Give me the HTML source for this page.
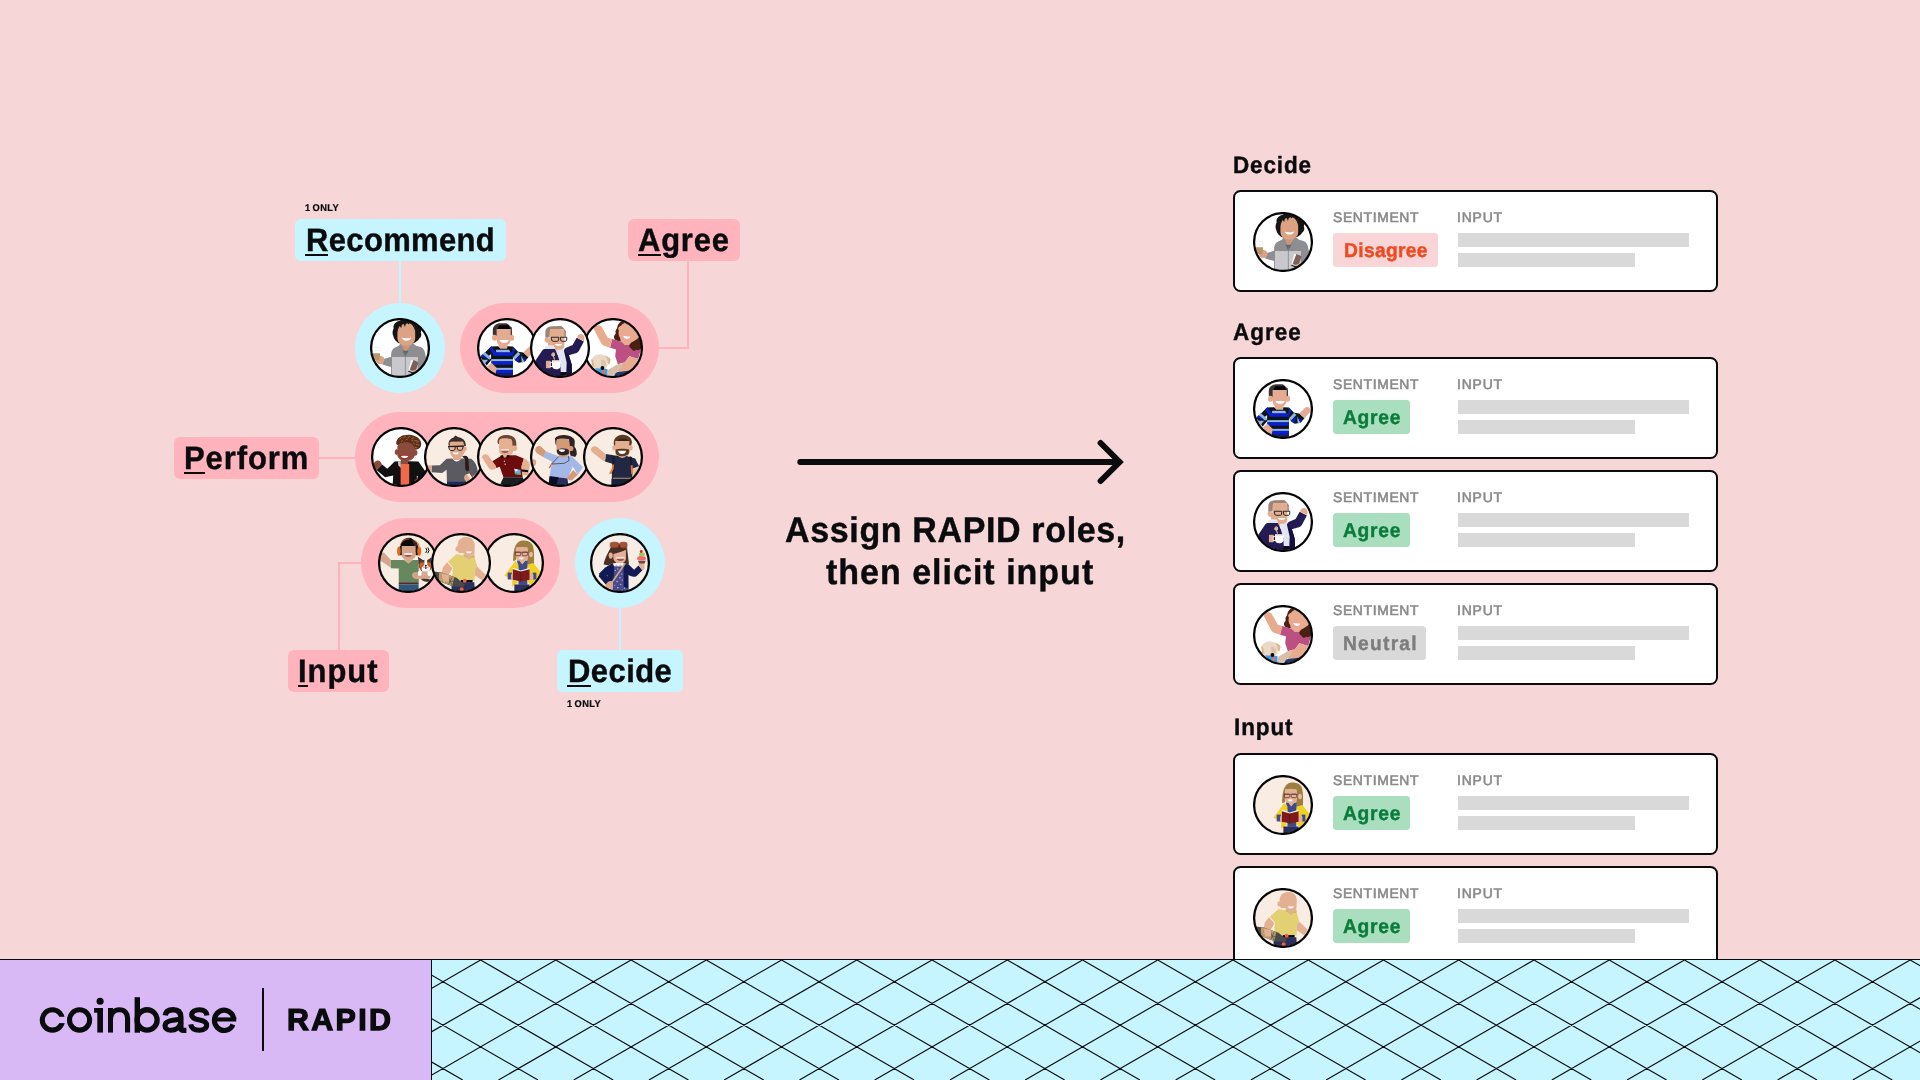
<!DOCTYPE html>
<html><head><meta charset="utf-8">
<title>RAPID</title>
<style>
html,body{margin:0;padding:0}
body{width:1920px;height:1080px;overflow:hidden;background:#f7d6d8;font-family:"Liberation Sans",sans-serif;position:relative;color:#0a0b0d}
.a{position:absolute}
.t{position:absolute;white-space:nowrap;line-height:1;font-weight:bold;will-change:transform;text-rendering:geometricPrecision;transform:scaleY(1.05);transform-origin:0 84.65%;-webkit-text-stroke-width:.4px}
.lbl{position:absolute;height:42px;border-radius:6px}
.pk{background:#ffb3bc}
.bl{background:#c6f4ff}
.ul{position:absolute;height:2px;background:#0a0b0d}
.pill{position:absolute;height:90px;border-radius:45px}
.av{position:absolute;width:60px;height:60px}
.card{position:absolute;left:1233px;width:481px;height:98px;border:2px solid #0a0b0d;border-radius:7.5px;background:#fff}
.gl{transform:none;color:#8a8a8a;font-size:13.9px;letter-spacing:.65px;font-weight:normal;-webkit-text-stroke:.6px #8a8a8a}
.bar{position:absolute;height:14px;background:#d9d9d9}
.bdg{position:absolute;height:34px;border-radius:3.5px}
.h{font-size:22.5px}
</style></head>
<body>
<svg width="0" height="0" style="position:absolute"><defs><clipPath id="cc"><circle cx="30" cy="30" r="28.4"/></clipPath><symbol id="av1" viewBox="0 0 60 60"><circle cx="30" cy="30" r="29" fill="#fff"/><g clip-path="url(#cc)"><g transform="scale(.074074) translate(-135,-133)"><path d="M452,385 C430,340 440,300 455,270 C440,230 480,180 530,172 C560,150 620,150 650,160 C700,150 760,180 790,225 C830,250 835,300 820,330 C840,360 820,400 795,415 C790,440 750,455 720,475 L525,475 C500,450 470,440 452,385Z" fill="#151515"/><rect x="560" y="440" width="135" height="160" fill="#cf9676"/><path d="M505,300 C505,225 560,197 625,197 C700,197 745,232 745,300 L745,400 C745,470 690,505 625,505 C560,505 505,470 505,400Z" fill="#dba283"/><path d="M498,335 L503,260 C520,200 580,183 640,183 C705,183 748,215 752,335 L738,290 C728,255 705,228 692,218 L672,200 L658,222 L640,203 L618,215 L607,255 L590,215 L566,225 L556,268 L536,240 C516,270 510,300 498,335Z" fill="#151515"/><path d="M565,395 Q627,418 690,395 Q682,437 627,437 Q573,437 565,395Z" fill="#fff"/><path d="M420,640 C420,565 450,535 520,512 L552,475 L612,610 L705,470 L765,512 C850,522 872,565 882,625 L905,730 L905,960 L420,960Z" fill="#8d8d92"/><path d="M575,575 L655,575 L612,655Z" fill="#5d6b62"/><rect x="432" y="660" width="350" height="300" fill="#c9c9cd"/><rect x="606" y="600" width="10" height="360" fill="#7e7e82"/><path d="M432,652 L312,690 L300,762 L432,797Z" fill="#8d8d92"/><ellipse cx="272" cy="700" rx="58" ry="55" fill="#dba283"/><path d="M160,610 L272,610 L262,702 L172,702Z" fill="#b8966a"/><path d="M170,530 h80 q18,0 18,18 v10 q0,18 -18,18 h-50 l-30,25" fill="none" stroke="#dbe6ea" stroke-width="8"/><path d="M690,700 L722,700 L672,832 L650,852Z" fill="#f4f4f4"/><path d="M722,700 L792,732 L745,862 L672,832Z" fill="#7a6056"/><path d="M655,845 L730,872 L724,886 L650,860Z" fill="#1a1a1a"/><ellipse cx="748" cy="850" rx="30" ry="17" fill="#dba283"/></g></g><circle cx="30" cy="30" r="28.9" fill="none" stroke="#050506" stroke-width="2.25"/></symbol><symbol id="av2" viewBox="0 0 60 60"><circle cx="30" cy="30" r="29" fill="#fff"/><g clip-path="url(#cc)"><g transform="scale(.074074) translate(-135,-135)"><path d="M348,362 L348,300 C348,235 400,205 450,205 L520,205 C560,205 570,240 605,262 L610,390 L580,392 L580,285 L405,285 L405,380Z" fill="#3e3331"/><path d="M405,285 L440,232 L560,232 L585,285Z" fill="#000"/><rect x="428" y="470" width="118" height="85" fill="#e5ab92"/><path d="M400,285 L590,285 L590,420 C590,470 560,500 540,502 L440,502 C410,495 400,460 400,420Z" fill="#e5ab92"/><ellipse cx="372" cy="402" rx="34" ry="40" fill="#e5ab92"/><ellipse cx="606" cy="402" rx="30" ry="40" fill="#e5ab92"/><path d="M440,432 L562,432 Q555,470 500,470 Q447,470 440,432Z" fill="#fff"/><path d="M325,520 L420,515 L450,550 L540,550 L545,515 L620,520 L620,915 L395,915 L325,690Z" fill="#0d1614"/><path d="M390,565 L570,565 L585,600 L395,600Z" fill="#8fb4e8"/><rect x="355" y="600" width="265" height="46" fill="#0a1fd0"/><rect x="325" y="690" width="295" height="30" fill="#8fb4e8"/><rect x="325" y="720" width="295" height="46" fill="#0a1fd0"/><rect x="395" y="808" width="225" height="28" fill="#8fb4e8"/><rect x="395" y="836" width="225" height="46" fill="#0a1fd0"/><rect x="395" y="882" width="225" height="35" fill="#1a2070"/><path d="M325,520 L180,660 L265,775 L330,700 L290,650 L400,560Z" fill="#0d1614"/><path d="M300,545 L330,520 L395,600 L360,640Z" fill="#0a1fd0"/><path d="M240,595 L210,625 L300,700 L325,670Z" fill="#8fb4e8"/><path d="M210,625 L180,655 L290,690 L300,700Z" fill="#0a1fd0"/><path d="M200,700 L285,700 L240,755Z" fill="#8fb4e8"/><path d="M270,790 L330,740 L405,815 L385,885 L300,840Z" fill="#e5ab92"/><path d="M620,520 L690,590 L760,600 L830,665 L775,725 L700,740 L650,705 L620,660Z" fill="#0d1614"/><path d="M620,530 L655,560 L620,640Z" fill="#0a1fd0"/><path d="M690,590 L720,620 L650,695 L620,665Z" fill="#8fb4e8"/><path d="M728,635 L650,705 L690,735Z" fill="#0a1fd0"/><path d="M730,640 L740,738 L775,722Z" fill="#8fb4e8"/><path d="M735,640 L780,722 L800,700Z" fill="#0a1fd0"/><path d="M760,600 L830,530 C860,500 900,510 910,545 C915,575 900,590 830,665Z" fill="#e5ab92"/></g></g><circle cx="30" cy="30" r="28.9" fill="none" stroke="#050506" stroke-width="2.25"/></symbol><symbol id="av3" viewBox="0 0 60 60"><circle cx="30" cy="30" r="29" fill="#fff"/><g clip-path="url(#cc)"><g transform="scale(.074074) translate(-135,-135)"><path d="M342,400 L342,320 C345,270 380,250 430,245 L555,243 C585,255 600,290 620,315 L618,395 L590,380 L590,290 L410,290 L400,400Z" fill="#9c8479"/><rect x="465" y="500" width="125" height="100" fill="#e2ad8f"/><path d="M400,330 C400,290 430,285 500,285 C570,285 600,295 600,340 L600,500 C600,545 570,560 520,560 C480,560 465,540 460,510 L380,505 L375,470 C340,470 325,440 335,415 C345,395 380,400 400,400Z" fill="#e2ad8f"/><path d="M380,405 L425,400" stroke="#f0f0f0" stroke-width="10"/><path d="M420,395 L525,395 L520,440 C515,455 440,455 430,440Z M545,395 L632,395 L630,440 C620,455 560,455 550,440Z" fill="none" stroke="#222" stroke-width="13"/><path d="M470,487 L572,487 Q565,512 520,512 Q477,512 470,487Z" fill="#fff"/><path d="M340,515 L455,515 L470,555 L340,550Z M560,555 L600,535 L612,565 L570,575Z" fill="#dfe3f0"/><path d="M300,575 C310,560 330,555 350,555 L470,555 L540,700 L600,560 L615,540 L710,500 L765,400 L862,452 L795,580 C780,600 760,610 740,615 L660,638 L700,770 L700,960 L200,960 L205,715Z" fill="#231b52"/><path d="M600,560 L660,638 L700,770 L700,960 L630,960 L635,740Z" fill="#15103d"/><path d="M490,565 L590,565 L630,740 L625,865 L550,865 L545,760Z" fill="#e1e4f2"/><rect x="545" y="868" width="82" height="35" fill="#0a0a0a"/><path d="M770,395 C780,360 810,345 840,355 C870,370 880,400 862,450Z" fill="#e2ad8f"/><path d="M445,605 C470,600 475,640 450,650 L465,690" fill="none" stroke="#d9b8a0" stroke-width="16" stroke-linecap="round"/><circle cx="445" cy="630" r="24" fill="#d9b8a0"/><rect x="350" y="712" width="65" height="102" rx="10" fill="#e2ad8f"/><path d="M410,740 h40 v50 h-40z" fill="none" stroke="#fff" stroke-width="14"/><rect x="415" y="745" width="18" height="38" fill="#231b52"/><path d="M432,705 L548,705 L548,790 C540,820 510,828 490,828 C455,828 440,810 432,790Z" fill="#fff"/><rect x="445" y="712" width="95" height="8" fill="#d9b8a0"/></g></g><circle cx="30" cy="30" r="28.9" fill="none" stroke="#050506" stroke-width="2.25"/></symbol><symbol id="av4" viewBox="0 0 60 60"><circle cx="30" cy="30" r="29" fill="#fff"/><g clip-path="url(#cc)"><g transform="scale(.074074) translate(-135,-135)"><path d="M660,178 C615,195 600,240 595,275 C570,300 572,330 578,345 C550,370 545,400 565,425 C595,450 640,450 680,440 L700,200Z" fill="#4a2014"/><path d="M620,300 C600,290 610,250 650,240 C670,200 720,195 760,215 C830,250 880,330 885,400 C870,450 800,470 770,500 L700,500 C660,480 640,440 635,400 C615,380 610,330 620,300Z" fill="#e8ab90"/><path d="M662,366 Q720,382 786,374 Q780,430 725,430 Q672,424 662,366Z" fill="#f59a9a"/><path d="M674,376 Q722,390 775,384 Q768,418 725,418 Q684,413 674,376Z" fill="#fff"/><path d="M530,420 L650,452 L700,500 L770,500 L915,565 L880,690 L760,650 L700,735 L605,760 L570,650 L580,560 L500,535Z" fill="#bd5083"/><path d="M885,395 C930,440 925,520 915,560 C890,560 880,580 850,560 C840,590 800,580 790,550 C760,540 750,500 775,480 C800,450 860,440 885,395Z" fill="#4a2014"/><path d="M275,275 C290,235 350,215 385,250 L470,400 L530,420 L500,535 L420,510 C395,500 385,480 375,465Z" fill="#e8ab90"/><path d="M760,650 L880,690 L810,820 C780,870 700,900 650,890 L600,850 L640,745 L700,735Z" fill="#e8ab90"/><path d="M560,870 L800,840 L760,960 L560,960Z" fill="#1f3a6e"/><path d="M465,840 L600,760 L680,735 L650,800 L560,900 L470,910Z" fill="#d8c0a8"/><path d="M420,640 C470,650 510,680 508,700 L490,765 L440,720Z" fill="#d9b98f"/><path d="M250,700 C260,660 300,630 370,625 C430,625 470,680 470,740 C470,800 440,830 400,840 L300,820 C260,790 245,750 250,700Z" fill="#ecd9c5"/><path d="M245,700 C250,690 270,690 275,720 L290,800 L260,780Z" fill="#d9b98f"/><path d="M380,700 C420,690 450,720 445,770 L420,800 L380,780Z" fill="#dcc3ad"/><path d="M300,815 L465,825 L465,910 L400,900 L330,860Z" fill="#3aa0e0"/><circle cx="397" cy="810" r="26" fill="#0a0a0a"/><path d="M385,840 L435,840 L430,880 Q410,895 392,880Z" fill="#d9707a"/></g></g><circle cx="30" cy="30" r="28.9" fill="none" stroke="#050506" stroke-width="2.25"/></symbol><symbol id="av5" viewBox="0 0 60 60"><circle cx="30" cy="30" r="29" fill="#fff"/><g clip-path="url(#cc)"><g transform="scale(.074074) translate(-150,-135)"><path d="M495,370 C480,330 510,290 540,270 C580,235 680,230 740,255 C810,280 840,340 825,390 C810,430 770,445 730,440 L700,380 C650,340 560,340 520,380Z" fill="#5c2f1b"/><path d="M540,300 l20,-20 M590,280 l25,-20 M650,275 l25,-15 M700,290 l30,-10 M740,320 l35,0 M760,370 l35,10 M720,350 l20,15 M620,310 l20,-12 M560,330 l15,-12 M770,340 l20,-5 M700,320 l18,-8 M745,410 l25,5" stroke="#c9823c" stroke-width="9" stroke-linecap="round"/><rect x="555" y="560" width="98" height="90" fill="#8c4a3c"/><path d="M505,400 C520,350 580,340 620,340 C680,340 730,370 742,430 L742,520 C720,570 690,590 650,592 L580,590 C540,580 515,550 505,520Z" fill="#8c4a3c"/><ellipse cx="495" cy="475" rx="24" ry="38" fill="#8c4a3c"/><ellipse cx="752" cy="485" rx="25" ry="38" fill="#8c4a3c"/><path d="M543,518 Q600,510 662,520 Q655,568 600,568 Q548,565 543,518Z" fill="#b02a2a"/><path d="M553,527 Q600,520 652,528 Q645,555 600,555 Q560,553 553,527Z" fill="#fff"/><path d="M470,600 L555,598 L555,960 L440,960 L450,790 L340,815 L225,715 L300,640 L370,700Z" fill="#111"/><path d="M650,598 L790,600 L880,730 L880,960 L650,960Z" fill="#111"/><rect x="550" y="635" width="116" height="325" fill="#f2694a"/><path d="M512,600 L552,598 L552,690 L520,650Z" fill="#c9c9c9"/><path d="M185,640 C190,590 250,575 275,600 L300,640 L225,715 C195,700 185,670 185,640Z" fill="#8c4a3c"/><path d="M735,860 L780,820 L790,835 L750,870Z" fill="#8c4a3c"/><rect x="768" y="795" width="14" height="25" fill="#ddd"/></g></g><circle cx="30" cy="30" r="28.9" fill="none" stroke="#050506" stroke-width="2.25"/></symbol><symbol id="av6" viewBox="0 0 60 60"><circle cx="30" cy="30" r="29" fill="#f8ece3"/><g clip-path="url(#cc)"><g transform="scale(.074074) translate(-135,-135)"><path d="M468,385 C455,320 500,290 530,280 L560,250 L600,275 C660,285 700,320 700,390 L665,395 L660,335 L500,335 L480,395Z" fill="#3b2d2a"/><rect x="525" y="520" width="110" height="70" fill="#dfa98c"/><path d="M480,340 L665,335 L680,400 C720,395 725,450 690,462 L670,500 C650,540 620,560 580,560 C530,560 500,530 490,490Z" fill="#dfa98c"/><path d="M460,398 L672,392" stroke="#111" stroke-width="16"/><path d="M468,400 L558,400 L552,440 C540,458 490,458 478,440Z M582,398 L665,395 L652,438 C640,455 600,455 588,438Z" fill="#e9b79c" stroke="#111" stroke-width="12" stroke-linejoin="round"/><path d="M520,480 L607,480 Q600,507 565,507 Q528,505 520,480Z" fill="#fff"/><path d="M515,560 Q575,610 640,560 L650,600 Q575,650 505,600Z" fill="#fff"/><path d="M440,565 L515,560 Q575,640 640,560 L770,565 C830,600 860,690 860,740 L800,800 L750,760 L700,880 L445,880 L440,712 L380,755 L240,745 L240,655 L350,650Z" fill="#5a5a60"/><path d="M650,530 C700,510 735,530 735,570 L745,720 L715,735 L690,700 L690,570 Z" fill="#2a1a18"/><rect x="185" y="652" width="58" height="90" rx="8" fill="#dfa98c"/><ellipse cx="735" cy="820" rx="58" ry="55" fill="#dfa98c"/><path d="M715,775 L750,760 L790,820 L760,840Z" fill="#e8e8e8"/><path d="M750,760 L765,755 L800,815 L790,820Z" fill="#8c2a2a"/><rect x="445" y="875" width="260" height="60" fill="#1f2a6b"/></g></g><circle cx="30" cy="30" r="28.9" fill="none" stroke="#050506" stroke-width="2.25"/></symbol><symbol id="av7" viewBox="0 0 60 60"><circle cx="30" cy="30" r="29" fill="#f8ece3"/><g clip-path="url(#cc)"><g transform="scale(.074074) translate(-138,-135)"><path d="M420,360 C400,290 450,245 520,242 C600,238 660,270 668,340 L670,390 L615,400 L600,300 L450,300 L435,365Z" fill="#6b4636"/><rect x="478" y="490" width="84" height="70" fill="#e4b091"/><path d="M435,330 C440,295 470,288 520,288 C580,288 612,300 615,345 L618,390 C660,370 690,400 680,435 C670,462 640,465 625,455 L620,490 C600,515 560,522 520,520 C470,520 440,500 435,460Z" fill="#e4b091"/><path d="M458,435 L572,435 L570,457 L460,457Z" fill="#f4ecec"/><path d="M462,457 L568,457 Q560,488 515,488 Q470,486 462,457Z" fill="#a85a52"/><path d="M455,530 L480,518 L515,555 L550,518 L660,518 L770,560 L740,665 L740,700 L755,815 L495,815 L445,670 L400,690 L340,600Z" fill="#6d0c0c"/><path d="M455,520 L490,515 L488,555 L460,555Z M540,515 L575,518 L570,555 L545,555Z" fill="#0a0a0a"/><circle cx="508" cy="598" r="10" fill="#d9c0c0"/><circle cx="518" cy="637" r="10" fill="#d9c0c0"/><path d="M205,545 C205,505 260,485 290,520 L390,655 L400,690 C370,715 330,720 300,695Z" fill="#e4b091"/><path d="M770,560 C820,570 850,620 850,660 L835,760 C820,800 760,800 745,760 L740,665Z" fill="#e4b091"/><path d="M735,705 L830,718 L825,745 L735,735Z" fill="#111"/><path d="M640,700 L725,715 L730,780 L650,770Z" fill="#7aa8e8"/><path d="M640,700 L700,712 L660,740Z" fill="#f0f0f0"/><path d="M650,755 L730,765 L730,782 L650,772Z" fill="#4ab04a"/><path d="M495,815 L755,815 L775,860 L700,960 L430,960Z" fill="#1a1d22"/></g></g><circle cx="30" cy="30" r="28.9" fill="none" stroke="#050506" stroke-width="2.25"/></symbol><symbol id="av8" viewBox="0 0 60 60"><circle cx="30" cy="30" r="29" fill="#f8ece3"/><g clip-path="url(#cc)"><g transform="scale(.074074) translate(-135,-135)"><path d="M470,290 C500,250 560,240 620,245 C690,250 740,290 740,330 L735,400 C760,420 770,470 765,510 L745,540 L680,520 L665,420 L660,300 L500,300 L490,390 C470,360 480,320 470,290Z" fill="#2f2326"/><rect x="525" y="500" width="110" height="70" fill="#d39a78"/><path d="M490,330 C495,295 530,290 580,290 C640,290 668,310 670,350 L672,395 C710,380 730,410 720,440 C712,462 690,462 672,458 L670,500 C650,525 610,532 575,530 C530,530 500,510 495,480Z" fill="#d39a78"/><path d="M497,450 C520,422 620,418 658,445 L662,488 C640,520 560,524 522,503 C502,490 497,472 497,450Z" fill="#2f2326"/><path d="M520,440 Q565,430 612,442 Q605,472 565,472 Q528,470 520,440Z" fill="#fff"/><path d="M350,465 L520,530 Q580,560 640,525 L700,530 L850,680 L780,778 L712,665 L700,700 L640,830 L400,800 L430,600 L310,540Z" fill="#a3b8e6"/><path d="M205,440 C205,395 265,380 290,405 L352,465 L310,540 L230,490 C210,475 205,460 205,440Z" fill="#d39a78"/><path d="M720,715 L780,778 L705,850 C680,870 640,850 635,815Z" fill="#d39a78"/><path d="M520,535 L425,635 M652,520 L662,588 L600,625 L430,635" fill="none" stroke="#2a2a30" stroke-width="9"/><path d="M425,635 L395,690" stroke="#d9604a" stroke-width="16"/><path d="M400,800 L640,830 L660,960 L380,960Z" fill="#2a2f5c"/><path d="M400,800 L520,815 L480,960 L380,960Z" fill="#0c0c2a"/><ellipse cx="190" cy="615" rx="27" ry="45" fill="#dba586"/></g></g><circle cx="30" cy="30" r="28.9" fill="none" stroke="#050506" stroke-width="2.25"/></symbol><symbol id="av9" viewBox="0 0 60 60"><circle cx="30" cy="30" r="29" fill="#f8ece3"/><g clip-path="url(#cc)"><g transform="scale(.074074) translate(-125,-135)"><path d="M545,390 C525,300 570,245 660,240 C740,240 790,290 785,350 L770,390 L745,385 L740,325 L575,325 L565,395Z" fill="#5a3a22"/><path d="M580,325 C600,280 720,275 745,325Z" fill="#3a2418"/><rect x="600" y="510" width="110" height="60" fill="#e2b091"/><path d="M560,325 L750,325 L750,470 C750,530 700,560 655,560 C600,560 560,530 560,470Z" fill="#e2b091"/><ellipse cx="545" cy="415" rx="25" ry="38" fill="#e2b091"/><ellipse cx="772" cy="415" rx="25" ry="38" fill="#e2b091"/><path d="M565,440 C600,425 710,425 750,440 L750,470 C750,510 700,530 655,530 C600,530 565,510 565,470Z" fill="#5a3a22"/><path d="M600,455 L705,455 Q700,500 652,500 Q605,498 600,455Z" fill="#fff"/><path d="M435,500 L600,525 Q655,580 710,525 L830,560 L882,665 L790,700 L790,960 L510,960 L520,630 L422,600Z" fill="#222844"/><path d="M232,440 C232,395 290,380 320,410 L435,505 L420,600 L380,580 L255,480 C238,468 232,455 232,440Z" fill="#e2b091"/><path d="M525,525 L555,525 L545,760 L518,760Z M755,530 L785,540 L790,700 L765,700Z" fill="#1a1a28"/><path d="M520,640 L545,640 L540,700 L510,770 L478,765 L512,700Z" fill="#e07a3a"/><path d="M768,650 L795,650 L800,790 L775,760Z" fill="#e07a3a"/><path d="M800,710 L880,680 L850,760 L810,800Z" fill="#e8c0a8"/><rect x="530" y="820" width="255" height="14" fill="#b89a6a"/><rect x="510" y="836" width="280" height="124" fill="#1a1f3a"/></g></g><circle cx="30" cy="30" r="28.9" fill="none" stroke="#050506" stroke-width="2.25"/></symbol><symbol id="av10" viewBox="0 0 60 60"><circle cx="30" cy="30" r="29" fill="#f8ece3"/><g clip-path="url(#cc)"><g transform="scale(.074074) translate(-150,-135)"><path d="M455,330 C450,250 500,200 570,200 C610,200 620,230 650,240 C690,270 695,330 690,390 L650,395 L640,310 L470,310Z" fill="#0a0a0a"/><path d="M610,215 C660,235 695,290 690,390 L655,395 L640,310Z" fill="#3a2a28"/><path d="M450,300 C470,240 520,215 575,215" fill="none" stroke="#e2681c" stroke-width="12"/><path d="M640,235 C690,260 705,300 705,330" fill="none" stroke="#e2681c" stroke-width="14"/><path d="M500,490 L620,490 L620,500 L560,548 L500,500Z" fill="#d4a58c"/><path d="M470,310 L660,310 L660,440 C650,480 610,495 560,495 C510,495 475,475 470,440Z" fill="#d4a58c"/><rect x="443" y="310" width="28" height="125" rx="8" fill="#1a1a1a"/><rect x="660" y="310" width="30" height="125" rx="8" fill="#1a1a1a"/><ellipse cx="432" cy="382" rx="24" ry="60" fill="#e2681c"/><ellipse cx="706" cy="382" rx="26" ry="60" fill="#e2681c"/><rect x="505" y="405" width="106" height="26" fill="#f0e4e0"/><path d="M510,431 L606,431 Q600,458 558,458 Q516,456 510,431Z" fill="#a0564c"/><path d="M325,500 L500,500 L560,548 L620,500 L700,500 L700,800 L430,800 L430,615 L325,610Z" fill="#67875f"/><path d="M180,415 L230,398 L325,500 L325,605 L185,510Z" fill="#d4a58c"/><rect x="430" y="800" width="268" height="27" fill="#4a3028"/><rect x="430" y="827" width="268" height="130" fill="#33557a"/><path d="M730,760 C760,790 800,800 840,785 L850,760 L760,740Z" fill="#4a302c"/><path d="M688,455 L770,510 L705,570Z M875,462 L860,560 L810,505Z" fill="#4a302c"/><path d="M700,530 C715,488 870,482 880,535 L876,600 L845,652 L738,652 L706,600Z" fill="#5a3a30"/><path d="M708,565 C712,530 760,518 778,540 L772,645 L728,632Z M812,540 C840,518 876,540 874,585 L852,640 L812,645Z" fill="#c8642a"/><path d="M778,488 L812,488 L816,570 L852,600 L846,652 L742,652 L742,600 L774,570Z" fill="#fff"/><circle cx="795" cy="578" r="13" fill="#0a0a0a"/><path d="M760,595 Q795,610 835,595" stroke="#2a1a18" stroke-width="6" fill="none"/><ellipse cx="795" cy="610" rx="13" ry="12" fill="#c8324a"/><path d="M610,700 C610,670 640,662 660,665 L840,668 C870,680 865,740 840,752 L660,755 C630,755 610,735 610,700Z" fill="#d4a58c"/><rect x="742" y="660" width="80" height="60" fill="#d9a98c"/><rect x="690" y="645" width="48" height="70" rx="22" fill="#fff"/><rect x="820" y="645" width="48" height="70" rx="22" fill="#fff"/><path d="M795,335 Q825,370 795,405 M822,330 Q855,370 822,408" fill="none" stroke="#0a0a0a" stroke-width="13"/></g></g><circle cx="30" cy="30" r="28.9" fill="none" stroke="#050506" stroke-width="2.25"/></symbol><symbol id="av11" viewBox="0 0 60 60"><circle cx="30" cy="30" r="29" fill="#f8ece3"/><g clip-path="url(#cc)"><g transform="scale(.074074) translate(-155,-135)"><rect x="610" y="420" width="100" height="80" fill="#e4b092"/><path d="M515,300 C515,220 570,188 635,188 C700,188 745,230 745,300 L742,400 C740,450 700,470 660,470 C620,470 605,440 600,410 L530,405 C515,390 515,350 515,300Z" fill="#e4b092"/><ellipse cx="510" cy="350" rx="26" ry="36" fill="#e4b092"/><path d="M625,385 L707,385 Q700,412 665,412 Q632,410 625,385Z" fill="#fff"/><path d="M500,420 L600,440 L660,495 L740,450 L780,590 L745,620 L745,775 L440,765 L450,600 L385,520Z" fill="#e3d073"/><path d="M590,420 L650,470 L600,450Z M745,430 L740,470 L690,470Z" fill="#c4b352"/><path d="M370,530 L445,610 L400,690 L395,785 L310,795 L295,700 L315,600Z" fill="#e4b092"/><path d="M745,620 L780,590 L895,700 L850,775 L745,705Z" fill="#e4b092"/><rect x="555" y="770" width="162" height="36" fill="#0a0a0a"/><path d="M435,800 L740,800 L750,960 L430,960Z" fill="#2a2f5c"/><path d="M185,655 L300,668 L500,740 L612,832 L590,862 L450,856 L260,782Z" fill="#4a4a4a"/><path d="M262,670 L300,668 L470,730 L440,850 L262,782Z" fill="#b99b6b"/><path d="M390,730 L440,840 M440,730 L395,830 M385,780 L460,790" stroke="#4a4a3a" stroke-width="9"/><path d="M300,690 L395,700 L400,790 L320,790Z" fill="#e4b092"/><circle cx="610" cy="780" r="26" fill="#f2603c"/><circle cx="570" cy="893" r="26" fill="#f2603c"/><circle cx="190" cy="618" r="9" fill="#f2603c"/></g></g><circle cx="30" cy="30" r="28.9" fill="none" stroke="#050506" stroke-width="2.25"/></symbol><symbol id="av12" viewBox="0 0 60 60"><circle cx="30" cy="30" r="29" fill="#f8ece3"/><g clip-path="url(#cc)"><g transform="scale(.074074) translate(-135,-135)"><path d="M528,515 C530,400 540,300 600,255 C650,225 740,230 780,280 C812,320 814,420 810,570 L775,612 L720,585 L720,330 L570,330 L568,500Z" fill="#9e7d3f"/><rect x="612" y="500" width="80" height="70" fill="#e3b195"/><path d="M565,340 L645,320 L728,345 L728,470 C720,505 690,520 650,520 C610,520 575,505 565,470Z" fill="#e3b195"/><ellipse cx="770" cy="425" rx="25" ry="36" fill="#f0b8a8"/><path d="M550,395 L735,395" stroke="#5a2e28" stroke-width="9"/><rect x="558" y="393" width="72" height="48" rx="14" fill="none" stroke="#5a2e28" stroke-width="10"/><rect x="652" y="393" width="72" height="48" rx="14" fill="none" stroke="#5a2e28" stroke-width="10"/><path d="M605,465 L672,465 Q668,492 638,492 Q610,490 605,465Z" fill="#fff"/><path d="M580,505 L612,510 L650,560 L695,510 L725,505 L722,620 L720,835 L600,835 L600,620Z" fill="#3d4a8c"/><path d="M560,510 L600,560 L600,625 L520,650 L515,860 L600,800 L540,765 L410,712Z" fill="#f0d022"/><path d="M725,560 L800,540 L900,660 L842,762 L770,842 L720,790Z" fill="#f0d022"/><rect x="455" y="670" width="58" height="92" fill="#3d4a8c"/><rect x="790" y="670" width="52" height="92" fill="#3d4a8c"/><rect x="500" y="680" width="62" height="92" rx="25" fill="#e3b195"/><rect x="740" y="680" width="62" height="92" rx="25" fill="#e3b195"/><path d="M525,605 L632,640 L750,605 L750,630 L632,665 L525,630Z" fill="#f4f4f4"/><path d="M525,625 L632,655 L750,625 L750,765 L632,790 L525,765Z" fill="#7d1a1a"/><rect x="628" y="655" width="8" height="135" fill="#5a1010"/><path d="M545,830 L750,830 L750,960 L545,960Z" fill="#2a2f5c"/></g></g><circle cx="30" cy="30" r="28.9" fill="none" stroke="#050506" stroke-width="2.25"/></symbol><symbol id="av13" viewBox="0 0 60 60"><circle cx="30" cy="30" r="29" fill="#f5ede6"/><g clip-path="url(#cc)"><g transform="scale(.074074) translate(-135,-135)"><path d="M320,560 C330,480 380,400 410,340 C430,290 520,280 580,290 C630,300 640,360 645,420 L662,565 L600,545 L440,545 L380,570Z" fill="#4a2f25"/><rect x="485" y="520" width="100" height="60" fill="#e4b098"/><ellipse cx="415" cy="440" rx="28" ry="42" fill="#e4b098"/><path d="M450,420 C500,400 560,390 620,360 L620,480 C615,525 580,545 540,545 C495,545 455,520 450,480Z" fill="#e4b098"/><path d="M408,262 L408,330" stroke="#8c3a3a" stroke-width="9"/><path d="M632,262 L632,380" stroke="#8c3a3a" stroke-width="9"/><rect x="414" y="260" width="106" height="74" rx="30" fill="#a4542a" stroke="#8c3a3a" stroke-width="10"/><rect x="540" y="260" width="92" height="74" rx="30" fill="#a4542a" stroke="#8c3a3a" stroke-width="10"/><rect x="515" y="268" width="30" height="10" fill="#8c3a3a"/><rect x="490" y="460" width="110" height="22" fill="#f4ecec"/><path d="M495,482 L596,482 Q590,512 545,512 Q500,510 495,482Z" fill="#a0564c"/><rect x="440" y="585" width="215" height="375" fill="#4b4a8c"/><g fill="#c8c8e8"><circle cx="510" cy="620" r="9"/><circle cx="565" cy="690" r="9"/><circle cx="540" cy="740" r="10"/><circle cx="500" cy="790" r="9"/><circle cx="570" cy="770" r="8"/><circle cx="550" cy="828" r="9"/><circle cx="470" cy="840" r="8"/><circle cx="510" cy="875" r="10"/><circle cx="570" cy="905" r="8"/><circle cx="600" cy="880" r="8"/><circle cx="475" cy="640" r="8"/></g><path d="M460,540 L520,585 L545,560 L580,585 L585,540Z" fill="#fff"/><path d="M440,540 L462,590 L450,805 L350,832 L255,722 L262,680 L340,600Z" fill="#111a52"/><path d="M600,540 L660,562 L730,632 L790,575 L842,637 L765,715 C730,740 680,720 650,700 L652,885 L590,862 L588,600Z" fill="#111a52"/><circle cx="367" cy="713" r="10" fill="#6a6aa0"/><path d="M610,545 L425,815" stroke="#c4a88a" stroke-width="24"/><path d="M350,835 C370,780 420,770 445,800 L430,900 L345,860Z" fill="#dba98a"/><path d="M790,575 L795,540 L870,540 L872,600 C870,630 850,640 842,637Z" fill="#e4b098"/><path d="M783,510 L888,510 L870,548 L800,548Z" fill="#6b4a3a"/><path d="M770,485 C770,450 800,445 830,445 C870,445 892,455 890,485 C888,515 775,515 770,485Z" fill="#f26b6b"/><path d="M795,430 C795,400 815,395 835,395 C860,395 878,405 876,430 C874,458 797,458 795,430Z" fill="#a8c850"/><circle cx="827" cy="385" r="19" fill="#d4202a"/><path d="M822,370 L815,340" stroke="#f0a0a0" stroke-width="5"/></g></g><circle cx="30" cy="30" r="28.9" fill="none" stroke="#050506" stroke-width="2.25"/></symbol></defs></svg>

<!-- ===== left diagram ===== -->
<div class="t" id="t_only1" style="left:305px;top:203.9px;font-size:9.3px;word-spacing:-1px;letter-spacing:.4px;-webkit-text-stroke-width:.2px">1 ONLY</div>
<div class="lbl bl" style="left:295px;top:219px;width:211px"></div>
<div class="t" id="t_rec" style="left:305.5px;top:225.2px;font-size:31px;letter-spacing:.34px">Recommend</div>
<div class="ul" style="left:305px;top:254px;width:23px"></div>
<div class="a bl" style="left:399px;top:260px;width:2px;height:46px"></div>

<div class="lbl pk" style="left:628px;top:219px;width:112px"></div>
<div class="t" id="t_agr" style="left:637.5px;top:225.2px;font-size:31px;letter-spacing:.75px">Agree</div>
<div class="ul" style="left:638px;top:254px;width:23px"></div>
<div class="a pk" style="left:687px;top:260px;width:2px;height:89px"></div>
<div class="a pk" style="left:657px;top:347px;width:32px;height:2px"></div>

<div class="a bl" style="left:355px;top:303px;width:90px;height:90px;border-radius:50%"></div>
<div class="pill pk" style="left:460px;top:303px;width:199px"></div>

<div class="lbl pk" style="left:174px;top:437px;width:145px"></div>
<div class="t" id="t_per" style="left:184px;top:443.2px;font-size:31px;letter-spacing:.9px">Perform</div>
<div class="ul" style="left:184px;top:472px;width:21px"></div>
<div class="a pk" style="left:318px;top:457px;width:40px;height:2px"></div>
<div class="pill pk" style="left:355px;top:412px;width:304px"></div>

<div class="pill pk" style="left:361px;top:518px;width:199px"></div>
<div class="a bl" style="left:575px;top:518px;width:90px;height:90px;border-radius:50%"></div>
<div class="a pk" style="left:338px;top:562px;width:25px;height:2px"></div>
<div class="a pk" style="left:338px;top:562px;width:2px;height:90px"></div>
<div class="a bl" style="left:619px;top:606px;width:2px;height:46px"></div>

<div class="lbl pk" style="left:288px;top:650px;width:101px"></div>
<div class="t" id="t_inp" style="left:298.4px;top:656.2px;font-size:31px;letter-spacing:.94px">Input</div>
<div class="ul" style="left:298px;top:685px;width:10px"></div>

<div class="lbl bl" style="left:557px;top:650px;width:126px"></div>
<div class="t" id="t_dec" style="left:568px;top:656.2px;font-size:31px;letter-spacing:.43px">Decide</div>
<div class="ul" style="left:567px;top:685px;width:24px"></div>
<div class="t" id="t_only2" style="left:567px;top:699.9px;font-size:9.3px;word-spacing:-1px;letter-spacing:.4px;-webkit-text-stroke-width:.2px">1 ONLY</div>

<!-- avatars left -->
<svg class="av" style="left:370px;top:318px" viewBox="0 0 60 60"><use href="#av1"/></svg>
<svg class="av" style="left:477px;top:318px" viewBox="0 0 60 60"><use href="#av2"/></svg>
<svg class="av" style="left:583.3px;top:318px" viewBox="0 0 60 60"><use href="#av4"/></svg>
<svg class="av" style="left:530px;top:318px" viewBox="0 0 60 60"><use href="#av3"/></svg>
<svg class="av" style="left:370.8px;top:427px" viewBox="0 0 60 60"><use href="#av5"/></svg>
<svg class="av" style="left:423.90000000000003px;top:427px" viewBox="0 0 60 60"><use href="#av6"/></svg>
<svg class="av" style="left:477.0px;top:427px" viewBox="0 0 60 60"><use href="#av7"/></svg>
<svg class="av" style="left:530.1px;top:427px" viewBox="0 0 60 60"><use href="#av8"/></svg>
<svg class="av" style="left:583.2px;top:427px" viewBox="0 0 60 60"><use href="#av9"/></svg>
<svg class="av" style="left:378px;top:533px" viewBox="0 0 60 60"><use href="#av10"/></svg>
<svg class="av" style="left:483.6px;top:533px" viewBox="0 0 60 60"><use href="#av12"/></svg>
<svg class="av" style="left:430.7px;top:533px" viewBox="0 0 60 60"><use href="#av11"/></svg>
<svg class="av" style="left:590px;top:533px" viewBox="0 0 60 60"><use href="#av13"/></svg>

<!-- ===== center ===== -->
<svg class="a" style="left:780px;top:430px" width="360" height="64" viewBox="780 430 360 64">
<path d="M800.3 462H1119M1100.6 443L1119.6 462L1100.6 481" fill="none" stroke="#0a0b0d" stroke-width="6" stroke-linecap="round" stroke-linejoin="miter"/>
</svg>
<div class="t" id="t_c1" style="left:784.8px;top:513.7px;font-size:34px;letter-spacing:.64px">Assign RAPID roles,</div>
<div class="t" id="t_c2" style="left:826.4px;top:556.3px;font-size:34px;letter-spacing:1px">then elicit input</div>

<!-- ===== right cards ===== -->
<div class="t h" id="h_dec" style="left:1233.2px;top:154.7px;letter-spacing:0.84px">Decide</div>
<div class="t h" id="h_agr" style="left:1233.4px;top:322.05px;letter-spacing:1.0px">Agree</div>
<div class="t h" id="h_inp" style="left:1233.5px;top:717.4px;letter-spacing:0.9px">Input</div>
<div class="card" style="top:190px">
<svg class="av" style="left:18px;top:20px" viewBox="0 0 60 60"><use href="#av1"/></svg>
<div class="t gl" id="c0_s" style="left:97.7px;top:18.9px">SENTIMENT</div>
<div class="bdg" style="left:98px;top:41px;width:105px;background:#f9d5d7"></div>
<div class="t" id="c0_b" style="left:108.5px;top:49.6px;font-size:19.2px;letter-spacing:0.35px;color:#f0491f">Disagree</div>
<div class="t gl" id="c0_i" style="left:222.3px;top:18.9px;letter-spacing:.85px">INPUT</div>
<div class="bar" style="left:223px;top:41px;width:231px"></div>
<div class="bar" style="left:223px;top:61px;width:177px"></div>
</div>
<div class="card" style="top:357px">
<svg class="av" style="left:18px;top:20px" viewBox="0 0 60 60"><use href="#av2"/></svg>
<div class="t gl" id="c1_s" style="left:97.7px;top:18.9px">SENTIMENT</div>
<div class="bdg" style="left:98px;top:41px;width:77px;background:#a9dfbf"></div>
<div class="t" id="c1_b" style="left:108.2px;top:49.6px;font-size:19.2px;letter-spacing:0.75px;color:#0a7b3b">Agree</div>
<div class="t gl" id="c1_i" style="left:222.3px;top:18.9px;letter-spacing:.85px">INPUT</div>
<div class="bar" style="left:223px;top:41px;width:231px"></div>
<div class="bar" style="left:223px;top:61px;width:177px"></div>
</div>
<div class="card" style="top:470px">
<svg class="av" style="left:18px;top:20px" viewBox="0 0 60 60"><use href="#av3"/></svg>
<div class="t gl" id="c2_s" style="left:97.7px;top:18.9px">SENTIMENT</div>
<div class="bdg" style="left:98px;top:41px;width:77px;background:#a9dfbf"></div>
<div class="t" id="c2_b" style="left:108.2px;top:49.6px;font-size:19.2px;letter-spacing:0.75px;color:#0a7b3b">Agree</div>
<div class="t gl" id="c2_i" style="left:222.3px;top:18.9px;letter-spacing:.85px">INPUT</div>
<div class="bar" style="left:223px;top:41px;width:231px"></div>
<div class="bar" style="left:223px;top:61px;width:177px"></div>
</div>
<div class="card" style="top:583px">
<svg class="av" style="left:18px;top:20px" viewBox="0 0 60 60"><use href="#av4"/></svg>
<div class="t gl" id="c3_s" style="left:97.7px;top:18.9px">SENTIMENT</div>
<div class="bdg" style="left:98px;top:41px;width:93px;background:#d9d9d9"></div>
<div class="t" id="c3_b" style="left:107.8px;top:49.6px;font-size:19.2px;letter-spacing:1.25px;color:#7d7d7d">Neutral</div>
<div class="t gl" id="c3_i" style="left:222.3px;top:18.9px;letter-spacing:.85px">INPUT</div>
<div class="bar" style="left:223px;top:41px;width:231px"></div>
<div class="bar" style="left:223px;top:61px;width:177px"></div>
</div>
<div class="card" style="top:753px">
<svg class="av" style="left:18px;top:20px" viewBox="0 0 60 60"><use href="#av12"/></svg>
<div class="t gl" id="c4_s" style="left:97.7px;top:18.9px">SENTIMENT</div>
<div class="bdg" style="left:98px;top:41px;width:77px;background:#a9dfbf"></div>
<div class="t" id="c4_b" style="left:108.2px;top:49.6px;font-size:19.2px;letter-spacing:0.75px;color:#0a7b3b">Agree</div>
<div class="t gl" id="c4_i" style="left:222.3px;top:18.9px;letter-spacing:.85px">INPUT</div>
<div class="bar" style="left:223px;top:41px;width:231px"></div>
<div class="bar" style="left:223px;top:61px;width:177px"></div>
</div>
<div class="card" style="top:866px">
<svg class="av" style="left:18px;top:20px" viewBox="0 0 60 60"><use href="#av11"/></svg>
<div class="t gl" id="c5_s" style="left:97.7px;top:18.9px">SENTIMENT</div>
<div class="bdg" style="left:98px;top:41px;width:77px;background:#a9dfbf"></div>
<div class="t" id="c5_b" style="left:108.2px;top:49.6px;font-size:19.2px;letter-spacing:0.75px;color:#0a7b3b">Agree</div>
<div class="t gl" id="c5_i" style="left:222.3px;top:18.9px;letter-spacing:.85px">INPUT</div>
<div class="bar" style="left:223px;top:41px;width:231px"></div>
<div class="bar" style="left:223px;top:61px;width:177px"></div>
</div>

<!-- ===== bottom bar ===== -->
<div class="a" style="left:0;top:959px;width:1920px;height:121px;background:#c6f4ff"></div>
<svg class="a" style="left:432px;top:960px" width="1488" height="120" viewBox="0 0 1488 120"><path d="M-327.60 0L-119.75 120M-327.60 0L-535.45 120M-252.36 0L-44.51 120M-252.36 0L-460.21 120M-177.12 0L30.73 120M-177.12 0L-384.97 120M-101.88 0L105.97 120M-101.88 0L-309.73 120M-26.64 0L181.21 120M-26.64 0L-234.49 120M48.60 0L256.45 120M48.60 0L-159.25 120M123.84 0L331.69 120M123.84 0L-84.01 120M199.08 0L406.93 120M199.08 0L-8.77 120M274.32 0L482.17 120M274.32 0L66.47 120M349.56 0L557.41 120M349.56 0L141.71 120M424.80 0L632.65 120M424.80 0L216.95 120M500.04 0L707.89 120M500.04 0L292.19 120M575.28 0L783.13 120M575.28 0L367.43 120M650.52 0L858.37 120M650.52 0L442.67 120M725.76 0L933.61 120M725.76 0L517.91 120M801.00 0L1008.85 120M801.00 0L593.15 120M876.24 0L1084.09 120M876.24 0L668.39 120M951.48 0L1159.33 120M951.48 0L743.63 120M1026.72 0L1234.57 120M1026.72 0L818.87 120M1101.96 0L1309.81 120M1101.96 0L894.11 120M1177.20 0L1385.05 120M1177.20 0L969.35 120M1252.44 0L1460.29 120M1252.44 0L1044.59 120M1327.68 0L1535.53 120M1327.68 0L1119.83 120M1402.92 0L1610.77 120M1402.92 0L1195.07 120M1478.16 0L1686.01 120M1478.16 0L1270.31 120M1553.40 0L1761.25 120M1553.40 0L1345.55 120M1628.64 0L1836.49 120M1628.64 0L1420.79 120M1703.88 0L1911.73 120M1703.88 0L1496.03 120M1779.12 0L1986.97 120M1779.12 0L1571.27 120M1854.36 0L2062.21 120M1854.36 0L1646.51 120M1929.60 0L2137.45 120M1929.60 0L1721.75 120M2004.84 0L2212.69 120M2004.84 0L1796.99 120M2080.08 0L2287.93 120M2080.08 0L1872.23 120M2155.32 0L2363.17 120M2155.32 0L1947.47 120M2230.56 0L2438.41 120M2230.56 0L2022.71 120M2305.80 0L2513.65 120M2305.80 0L2097.95 120M2381.04 0L2588.89 120M2381.04 0L2173.19 120M2456.28 0L2664.13 120M2456.28 0L2248.43 120M2531.52 0L2739.37 120M2531.52 0L2323.67 120M2606.76 0L2814.61 120M2606.76 0L2398.91 120M2682.00 0L2889.85 120M2682.00 0L2474.15 120M2757.24 0L2965.09 120M2757.24 0L2549.39 120M2832.48 0L3040.33 120M2832.48 0L2624.63 120M2907.72 0L3115.57 120M2907.72 0L2699.87 120M2982.96 0L3190.81 120M2982.96 0L2775.11 120" stroke="#0a0b0d" stroke-width="1.15" fill="none"/></svg>
<div class="a" style="left:0;top:960px;width:431px;height:120px;background:#d8b9f6"></div>
<div class="a" style="left:0;top:959px;width:1920px;height:1.4px;background:#0a0b0d"></div>
<div class="a" style="left:430.6px;top:959px;width:1.6px;height:121px;background:#0a0b0d"></div>
<svg class="a" style="left:35px;top:990px" width="210" height="50" viewBox="35 990 210 50">
<g fill="none" stroke="#0a0b0d" stroke-width="5.1">
<ellipse cx="52.4" cy="1019.95" rx="10.1" ry="10.2"/>
<ellipse cx="79.57" cy="1019.95" rx="10.05" ry="10.2"/>
<path d="M110.5,1020 C110.5,1013.5 114,1009.75 119.3,1009.75 C124.8,1009.75 127.55,1013.3 127.55,1018.6 V1032.55"/>
<ellipse cx="147.1" cy="1019.95" rx="10.0" ry="10.2" stroke-width="5.3"/>
<path d="M165.2,1015.3 C165.8,1011.2 169.3,1009.75 173.2,1009.75 C178.6,1009.75 180.85,1012.8 180.85,1017.3 V1027.5 Q180.85,1030.35 183.8,1030.35 H186.4" stroke-width="5.4"/>
<path d="M181,1019 C176.5,1019.7 172.5,1020.2 169.8,1020.9 C166.6,1021.8 165,1023.4 165,1025.7 C165,1028.5 167.4,1030.25 170.9,1030.25 C175.8,1030.25 180,1027.3 180.8,1022.5" stroke-width="5.1"/>
<path d="M206.9,1015.4 C206.5,1011.6 203.6,1009.7 199.4,1009.7 C195,1009.7 191.7,1011.6 191.7,1014.8 C191.7,1017.9 194,1019 199.6,1020 C205,1021 206.6,1022.4 206.6,1025.3 C206.6,1028.4 203.6,1030.25 199.4,1030.25 C194.6,1030.25 191.4,1028.4 190.7,1024.4" stroke-width="5.1"/>
<path d="M233.8,1019.35 A9.7,10.2 0 1 0 233.0,1024.5" stroke-width="5.1"/>
</g>
<rect x="56" y="1016.8" width="10" height="6.3" fill="#d8b9f6"/>
<g fill="#0a0b0d">
<rect x="97.3" y="1008" width="5.7" height="24.55"/><rect x="94.1" y="1008" width="4" height="4.7"/><circle cx="100.1" cy="1001.2" r="3.55"/>
<rect x="108" y="1008" width="5" height="24.55"/>
<rect x="134.6" y="997.2" width="5.4" height="35.5"/>
<rect x="214.5" y="1017.4" width="21.75" height="4.1"/>
</g>
</svg>

<div class="a" style="left:262px;top:988px;width:2px;height:63px;background:#0a0b0d"></div>
<div class="t" id="t_rapid" style="left:287px;top:1005.1px;font-size:30.4px;letter-spacing:2.35px;transform:none;-webkit-text-stroke:1.3px #0a0b0d">RAPID</div>
</body></html>
